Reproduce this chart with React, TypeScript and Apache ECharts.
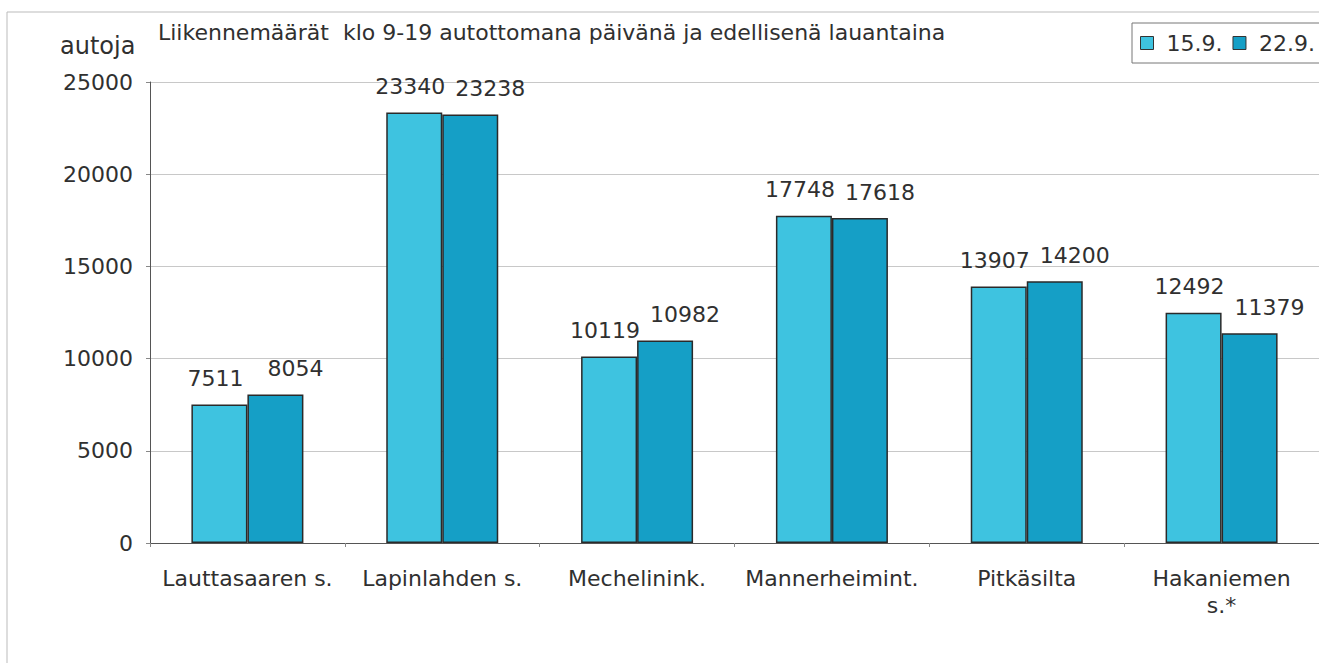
import React, { useEffect, useRef } from "react";
import * as echarts from "echarts";

const categories = ["Lauttasaaren s.", "Lapinlahden s.", "Mechelinink.", "Mannerheimint.", "Pitkäsilta", "Hakaniemen\ns.*"];
const series1Name = "15.9.";
const series2Name = "22.9.";
const series1 = [7511, 23340, 10119, 17748, 13907, 12492];
const series2 = [8054, 23238, 10982, 17618, 14200, 11379];
const titleText = "Liikennemäärät  klo 9-19 autottomana päivänä ja edellisenä lauantaina";
const yAxisName = "autoja";

const FONT = "DejaVu Sans, sans-serif";
const TXT = "#303030";

export default function App() {
  const ref = useRef<HTMLDivElement>(null);
  useEffect(() => {
    if (!ref.current) return;
    const chart = echarts.init(ref.current, null, { renderer: "svg" });
    const labelBase = {
      show: true,
      position: "top" as const,
      distance: 15,
      fontSize: 22,
      color: TXT,
      fontFamily: FONT,
    };
    chart.setOption({
      animation: false,
      backgroundColor: "#fff",
      textStyle: { fontFamily: FONT },
      title: {
        text: titleText,
        left: 158,
        top: 21,
        padding: 0,
        textStyle: { fontSize: 22, fontWeight: "normal", color: TXT, fontFamily: FONT },
      },
      legend: {
        data: [series1Name, series2Name],
        left: 1140,
        top: 32,
        padding: 0,
        itemWidth: 13,
        itemHeight: 13,
        itemGap: 10,
        icon: "rect",
        itemStyle: { borderColor: "#333", borderWidth: 1 },
        textStyle: { fontSize: 22, color: TXT, fontFamily: FONT, padding: [0, 0, 0, 8] },
      },
      graphic: [
        {
          type: "rect",
          shape: { x: 7, y: 12, width: 1330, height: 680 },
          style: { fill: "none", stroke: "#bbb", lineWidth: 1 },
          silent: true,
        },
        {
          type: "rect",
          shape: { x: 1132, y: 23, width: 200, height: 40 },
          style: { fill: "none", stroke: "#777", lineWidth: 1 },
          silent: true,
        },
        {
          type: "text",
          x: 60,
          y: 34,
          style: { text: yAxisName, fontSize: 24, fill: TXT, fontFamily: FONT },
        },
      ],
      grid: { left: 150, right: -10, top: 82, bottom: 120, containLabel: false },
      xAxis: {
        type: "category",
        data: categories,
        axisLine: { lineStyle: { color: "#555", width: 1 } },
        axisTick: { show: true, length: 4, lineStyle: { color: "#888" } },
        axisLabel: { interval: 0, fontSize: 22, color: TXT, margin: 22, lineHeight: 27, fontFamily: FONT },
      },
      yAxis: {
        type: "value",
        min: 0,
        max: 25000,
        interval: 5000,
        axisLine: { show: true, lineStyle: { color: "#555", width: 1 } },
        axisTick: { show: true, length: 4, lineStyle: { color: "#888" } },
        axisLabel: { fontSize: 22, color: TXT, margin: 17, fontFamily: FONT, formatter: (v: number) => String(v) },
        splitLine: { lineStyle: { color: "#c8c8c8", width: 1 } },
      },
      series: [
        {
          name: series1Name,
          type: "bar",
          data: series1,
          barWidth: 56,
          barGap: "0%",
          itemStyle: { color: "#3ec3e0", borderColor: "#2a2a2a", borderWidth: 1.5 },
          label: { ...labelBase, offset: [-4, 0] },
        },
        {
          name: series2Name,
          type: "bar",
          data: series2,
          barWidth: 56,
          itemStyle: { color: "#159fc6", borderColor: "#2a2a2a", borderWidth: 1.5 },
          label: { ...labelBase, offset: [20, 0] },
        },
      ],
    });
    return () => chart.dispose();
  }, []);
  return <div ref={ref} style={{ position: "fixed", left: 0, top: 0, width: 1319, height: 663 }} />;
}
